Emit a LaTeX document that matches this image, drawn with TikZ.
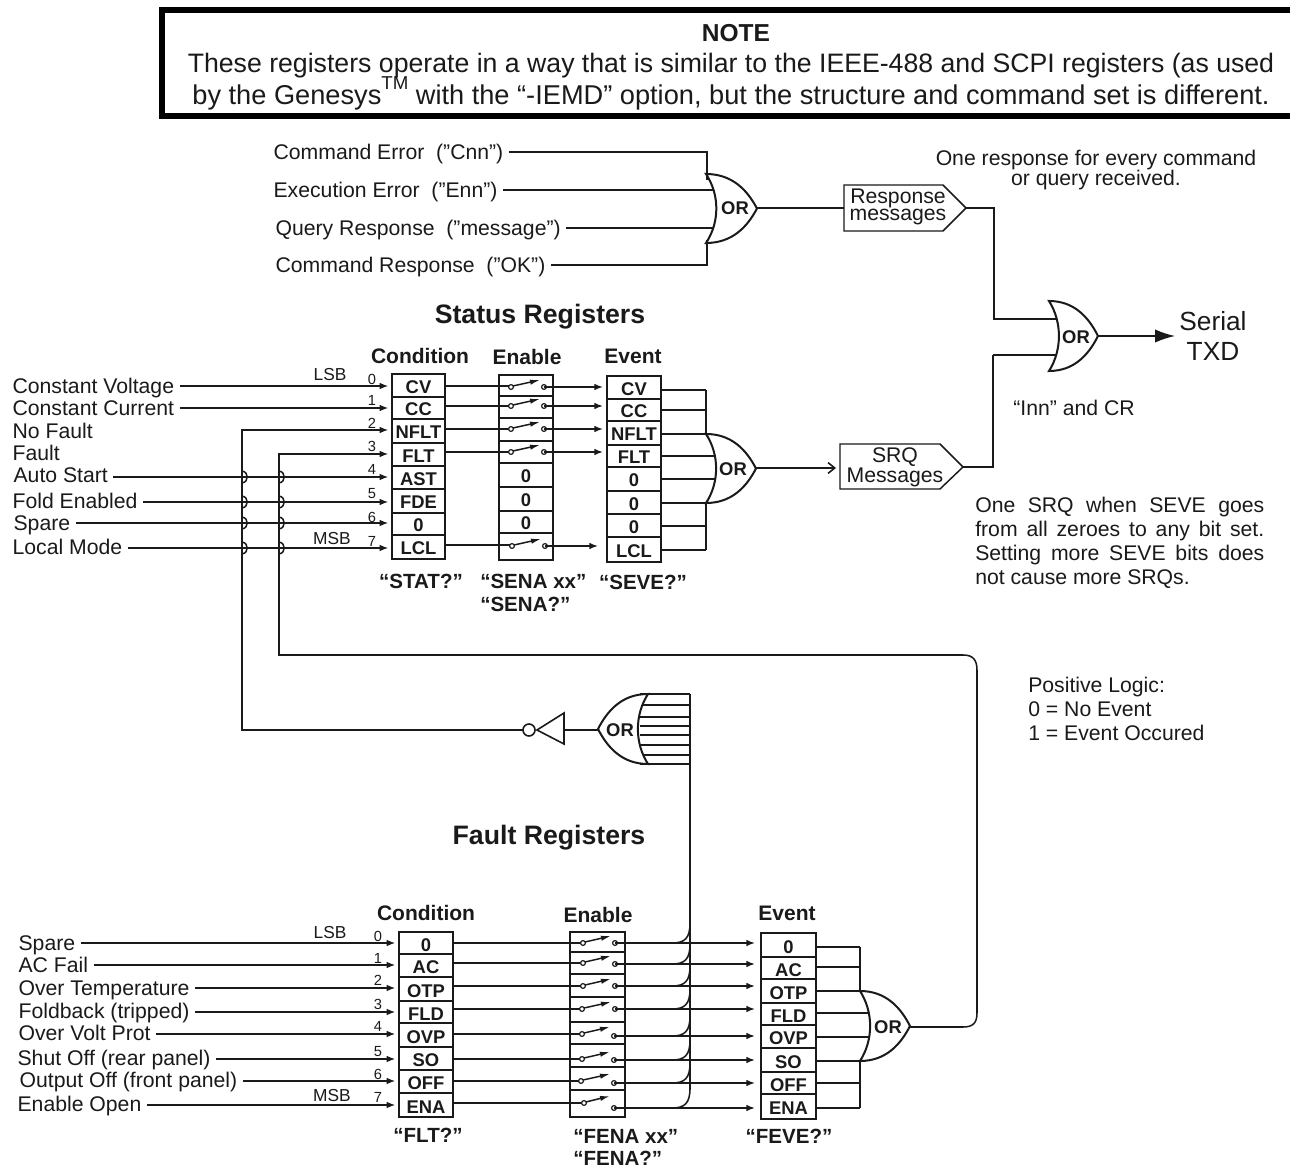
\documentclass[tikz,border=0pt]{standalone}
\usepackage{fontspec}
\setmainfont{Liberation Sans}
\definecolor{ink}{HTML}{1A1A1A}
\usetikzlibrary{arrows.meta,calc}
\tikzset{
  x=0.75pt,y=-0.75pt,
  wire/.style={draw=ink,line width=1.15pt,line cap=butt},
  arr/.style={wire,-{Latex[length=6.5pt,width=5pt]}},
  txt/.style={inner sep=0pt,text=ink,font=\fontsize{15.9}{18}\selectfont},
  inlbl/.style={txt,inner xsep=4pt,anchor=west,text height=12pt,text depth=0.8pt},
  hd/.style={txt,font=\fontsize{15.75}{18}\bfseries\selectfont},
  ttl/.style={txt,font=\fontsize{20}{24}\bfseries\selectfont},
  cmd/.style={txt,font=\fontsize{15.4}{18}\bfseries\selectfont},
  cell/.style={draw=ink,line width=1.1pt,inner sep=0pt,text=ink,font=\fontsize{13.8}{14}\bfseries\selectfont,fill=white,text height=12pt,text depth=0pt},
  num/.style={txt,font=\fontsize{11}{12}\selectfont},
  side/.style={txt,font=\fontsize{13}{14}\selectfont},
  gatetxt/.style={txt,font=\fontsize{13.8}{14}\bfseries\selectfont},
  notetxt/.style={txt,anchor=base,font=\fontsize{20}{22}\selectfont},
}
% cell: name, x0, x1, y0, y1, text
\newcommand{\regcell}[6]{\node[cell,minimum width=#3*0.75pt-#2*0.75pt,minimum height=#5*0.75pt-#4*0.75pt] (#1) at ({(#2+#3)/2},{(#4+#5)/2}) {#6};}
% OR outline: xback, ytop, ybottom, xtip
\newcommand{\orshape}[4]{%
  \pgfmathsetmacro{\orW}{#4-#1}\pgfmathsetmacro{\orM}{(#2+#3)/2}\pgfmathsetmacro{\orH}{#3-#2}%
  \draw[draw=ink,line width=1.5pt,fill=white,line join=miter]
   (#1,#2) .. controls ({#1+0.5*\orW},#2) and ({#1+0.8*\orW},{\orM-0.28*\orH}) .. (#4,\orM)
   .. controls ({#1+0.8*\orW},{\orM+0.28*\orH}) and ({#1+0.5*\orW},#3) .. (#1,#3)
   .. controls ({#1+0.27*\orW},{\orM+0.2*\orH}) and ({#1+0.27*\orW},{\orM-0.2*\orH}) .. cycle;}
% switch: xl, xr, yl, yr
\newcommand{\swt}[4]{%
  \draw[draw=ink,line width=0.9pt,fill=white] (#1,#3) circle (1.8pt) (#2,#4) circle (1.8pt);
  \draw[draw=ink,line width=1.1pt,-{Latex[length=7.5pt,width=4pt]}] (#1,#3) ++(2,-1) -- ({#2-4},{#3-7});}
% bumped vertical wire from top y to bottom y at x
\newcommand{\bump}[2]{-- (#1,{#2-6}) .. controls ({#1+7},{#2-5}) and ({#1+7},{#2+5}) .. (#1,{#2+6})}
\begin{document}
\begin{tikzpicture}
\useasboundingbox (0,0) rectangle (1290,1169);
\fill[white] (0,0) rectangle (1290,1169);
% NOTE box
\draw[black,line width=4.5pt] (1295,10) -- (162,10) -- (162,116) -- (1295,116);
\node[txt,font=\fontsize{18.4}{20}\bfseries\selectfont] (note) at (736,33) {NOTE};
\node[notetxt] (n1) at (731,73) {These registers operate in a way that is similar to the IEEE-488 and SCPI registers (as used};
\node[notetxt,font=\fontsize{20.4}{22}\selectfont] (n2) at (731,105) {by the Genesys\raisebox{1.1ex}{\fontsize{14}{14}\selectfont TM} with the “-IEMD” option, but the structure and command set is different.};
% Top inputs
\node[inlbl] (e1) at (268,152) {Command Error\ \ (”Cnn”)};
\node[inlbl] (e2) at (268,190) {Execution Error\ \ (”Enn”)};
\node[inlbl] (e3) at (270,228) {Query Response\ \ (”message”)};
\node[inlbl] (e4) at (270,265) {Command Response\ \ (”OK”)};
\coordinate (busA) at (707,0);
\draw[wire] (e1.east) -- (e1.east -| busA) -- (707,180);
\draw[wire] (e2.east) -- (717,190);
\draw[wire] (e3.east) -- (717,228);
\draw[wire] (e4.east) -- (e4.east -| busA) -- (707,240);
\orshape{706}{174}{243}{757}
\node[gatetxt] (orA) at (735,208) {OR};
\coordinate (orAout) at (757,208);
\coordinate (rA) at (844,208);
\coordinate (rTip) at (966,208);
\draw[draw=ink,line width=1.1pt,fill=white] (844,185) -- (943,185) -- (rTip) -- (943,231) -- (844,231) -- cycle;
\node[txt,align=center,font=\fontsize{15.9}{13}\selectfont] (resp) at (898,207) {Response\\messages};
\draw[wire] (orAout) -- (rA);
\coordinate (orSt) at (1059,319);
\draw[wire] (rTip) -- (994,208) -- (994,319) -- (orSt);
\node[txt] (o1) at (1096,160) {One response for every command};
\node[txt] (o2) at (1096,180) {or query received.};
% Serial gate
\coordinate (orSb) at (1059,355);
\draw[wire] (993,355) -- (orSb);
\orshape{1049}{301}{371}{1098}
\node[gatetxt] (orS) at (1076,337) {OR};
\coordinate (orSout) at (1098,336);
\node[txt,font=\fontsize{19.7}{22}\selectfont] (ser1) at (1213,321) {Serial};
\node[txt,font=\fontsize{19.7}{22}\selectfont] (ser2) at (1213,351) {TXD};
\coordinate (serIn) at (1175,336);
\draw[wire,-{Latex[length=15pt,width=10pt]}] (orSout) -- (serIn);
% Status registers
\node[ttl] (stt) at (540,317) {Status Registers};
\node[hd] (h1) at (420,356) {Condition};
\node[hd] (h2) at (527,357) {Enable};
\node[hd] (h3) at (633,356) {Event};
\regcell{c0}{392}{445}{374}{397}{CV}
\regcell{c1}{392}{445}{397}{419}{CC}
\regcell{c2}{392}{445}{419}{443}{NFLT}
\regcell{c3}{392}{445}{443}{466}{FLT}
\regcell{c4}{392}{445}{466}{489}{AST}
\regcell{c5}{392}{445}{489}{513}{FDE}
\regcell{c6}{392}{445}{513}{535}{0}
\regcell{c7}{392}{445}{535}{559}{LCL}
\regcell{n0}{499}{553}{375}{396}{}
\regcell{n1b}{499}{553}{396}{418}{}
\regcell{n2b}{499}{553}{418}{441}{}
\regcell{n3}{499}{553}{441}{463}{}
\regcell{n4}{499}{553}{463}{487}{0}
\regcell{n5}{499}{553}{487}{511}{0}
\regcell{n6}{499}{553}{511}{533}{0}
\regcell{n7}{499}{553}{533}{560}{}
\regcell{v0}{607}{661}{376}{399}{CV}
\regcell{v1}{607}{661}{399}{421}{CC}
\regcell{v2}{607}{661}{421}{445}{NFLT}
\regcell{v3}{607}{661}{445}{467}{FLT}
\regcell{v4}{607}{661}{467}{491}{0}
\regcell{v5}{607}{661}{491}{514}{0}
\regcell{v6}{607}{661}{514}{537}{0}
\regcell{v7}{607}{661}{537}{562}{LCL}
% Status input labels and wires
\node[inlbl] (s0) at (7,386) {Constant Voltage};
\node[inlbl] (s1) at (7,408) {Constant Current};
\node[inlbl] (s2) at (7,431) {No Fault};
\node[inlbl] (s3) at (7,453) {Fault};
\node[inlbl] (s4) at (8,475) {Auto Start};
\node[inlbl] (s5) at (7,501) {Fold Enabled};
\node[inlbl] (s6) at (8,523) {Spare};
\node[inlbl] (s7) at (7,547) {Local Mode};
\tikzset{tipgap/.style={shorten >=2.2pt}}
\foreach \a/\b/\y in {s0/c0/386,s1/c1/408,s4/c4/477,s5/c5/502,s6/c6/523,s7/c7/548}{
  \draw[arr,tipgap] (\a.east |- 0,\y) -- (\b.west |- 0,\y);
}
\foreach \t/\y in {0/379,1/400,2/423,3/446,4/469,5/494,6/517,7/541}{\node[num] (sd\t) at (372,\y) {\t};}
\node[side] (slsb) at (330,375) {LSB};
\node[side] (smsb) at (332,539) {MSB};
\coordinate (nfTop) at (242,430);
\coordinate (flTop) at (279,454);
\coordinate (invIn) at (523,730);
\draw[arr,tipgap] (invIn) -- (242,730) \bump{242}{548} \bump{242}{523} \bump{242}{502} \bump{242}{477} -- (nfTop) -- (nfTop -| c2.west);
\coordinate (faultIn) at (910,1027);
\draw[arr,tipgap] (faultIn) -- (963,1027) .. controls (973,1027) and (977,1023) .. (977,1013) -- (977,670) .. controls (977,660) and (973,655) .. (963,655) -- (279,655)
  \bump{279}{548} \bump{279}{523} \bump{279}{502} \bump{279}{477} -- (flTop) -- (flTop -| c3.west);
% Status enable wires
\foreach \y/\yy/\c in {386/387/c0,406/406/c1,429/429/c2,452/452/c3}{
  \draw[wire] (\c.east |- 0,\y) -- (511,\y);
  \swt{511}{544}{\yy}{\yy}
  \draw[arr] (544,\yy) -- (603,\yy);
}
\draw[wire] (c7.east |- 0,545) -- (512,545);
\swt{512}{545}{546}{546}
\draw[arr] (545,546) -- (598,546);
% Status event OR
\coordinate (busB) at (706,0);
\foreach \y in {390,410,526,550}{\draw[wire] (661,\y) -- (busB |- 0,\y);}
\draw[wire] (661,434) -- (706,434);
\draw[wire] (661,456) -- (716,456);
\draw[wire] (661,479) -- (716,479);
\draw[wire] (661,503) -- (706,503);
\draw[wire] (706,390) -- (706,434) (706,503) -- (706,550);
\orshape{706}{434}{503}{756}
\node[gatetxt] (orB) at (733,469) {OR};
\coordinate (orBout) at (756,468);
\coordinate (srqIn) at (836,468);
\draw[wire,-{Straight Barb[length=5pt,width=8pt]}] (orBout) -- (srqIn);
\coordinate (srqTip) at (963,467);
\draw[draw=ink,line width=1.1pt,fill=white] (840,444) -- (940,444) -- (srqTip) -- (940,489) -- (840,489) -- cycle;
\node[txt,align=center,font=\fontsize{15.9}{15}\selectfont] (srq) at (895,467) {SRQ\\Messages};
\draw[wire] (srqTip) -- (993,467) -- (993,355);
\node[txt] (inn) at (1074,408) {“Inn” and CR};
% Cmd labels
\node[cmd] (q1) at (421,581) {“STAT?”};
\node[cmd,anchor=west] (q2) at (480,581) {“SENA xx”};
\node[cmd,anchor=west] (q3) at (480,604) {“SENA?”};
\node[cmd] (q4) at (643,582) {“SEVE?”};
% Right notes
\node[txt,anchor=west] (j1) at (975,507) {\makebox[216.75pt][s]{One SRQ when SEVE goes}};
\node[txt,anchor=west] (j2) at (975,531) {\makebox[216.75pt][s]{from all zeroes to any bit set.}};
\node[txt,anchor=west] (j3) at (975,555) {\makebox[216.75pt][s]{Setting more SEVE bits does}};
\node[txt,anchor=west] (j4) at (975,579) {not cause more SRQs.};
\node[txt,anchor=west] (p1) at (1028,687) {Positive Logic:};
\node[txt,anchor=west] (p2) at (1028,709) {0 = No Event};
\node[txt,anchor=west] (p3) at (1028,733) {1 = Event Occured};
% Fault bus wire and NOR
\coordinate (busC) at (690,0);
\foreach \y in {694,705,717,726,735,745,755,764}{\draw[wire] (640,\y) -- (busC |- 0,\y);}
\draw[wire] (690,694) -- (690,1090);
\orshape{648}{694}{764}{598}
\node[gatetxt] (orC) at (620,730) {OR};
\coordinate (orCout) at (598,730);
\coordinate (invBase) at (564,730);
\draw[wire] (orCout) -- (invBase);
\draw[draw=ink,line width=1.2pt,fill=white] (564,713) -- (537,730) -- (564,744) -- cycle;
\draw[draw=ink,line width=1.2pt,fill=white] (529,730) circle (4.5pt);
\node[ttl] (ftt) at (549,838) {Fault Registers};
% Fault registers
\node[hd] (f1) at (426,913) {Condition};
\node[hd] (f2) at (598,915) {Enable};
\node[hd] (f3) at (787,913) {Event};
\regcell{a0}{399}{453}{932}{954}{0}
\regcell{a1}{399}{453}{954}{977}{AC}
\regcell{a2}{399}{453}{977}{1001}{OTP}
\regcell{a3}{399}{453}{1001}{1023}{FLD}
\regcell{a4}{399}{453}{1023}{1047}{OVP}
\regcell{a5}{399}{453}{1047}{1070}{SO}
\regcell{a6}{399}{453}{1070}{1093}{OFF}
\regcell{a7}{399}{453}{1093}{1117}{ENA}
\regcell{b0}{570}{625}{932}{952}{}
\regcell{b1}{570}{625}{952}{974}{}
\regcell{b2}{570}{625}{974}{997}{}
\regcell{b3}{570}{625}{997}{1022}{}
\regcell{b4}{570}{625}{1022}{1044}{}
\regcell{b5}{570}{625}{1044}{1067}{}
\regcell{b6}{570}{625}{1067}{1090}{}
\regcell{b7}{570}{625}{1090}{1117}{}
\regcell{d0}{761}{816}{933}{957}{0}
\regcell{d1}{761}{816}{957}{979}{AC}
\regcell{d2}{761}{816}{979}{1003}{OTP}
\regcell{d3}{761}{816}{1003}{1025}{FLD}
\regcell{d4}{761}{816}{1025}{1048}{OVP}
\regcell{d5}{761}{816}{1048}{1072}{SO}
\regcell{d6}{761}{816}{1072}{1094}{OFF}
\regcell{d7}{761}{816}{1094}{1119}{ENA}
\node[inlbl] (g0) at (13,943) {Spare};
\node[inlbl] (g1) at (13,965) {AC Fail};
\node[inlbl] (g2) at (13,988) {Over Temperature};
\node[inlbl] (g3) at (13,1011) {Foldback (tripped)};
\node[inlbl] (g4) at (13,1033) {Over Volt Prot};
\node[inlbl] (g5) at (12,1058) {Shut Off (rear panel)};
\node[inlbl] (g6) at (14,1080) {Output Off (front panel)};
\node[inlbl] (g7) at (12,1104) {Enable Open};
\foreach \a/\b/\y in {g0/a0/943,g1/a1/965,g2/a2/988,g3/a3/1012,g4/a4/1034,g5/a5/1059,g6/a6/1081,g7/a7/1105}{
  \draw[arr,tipgap] (\a.east |- 0,\y) -- (\b.west |- 0,\y);
}
\foreach \t/\y in {0/936,1/958,2/980,3/1004,4/1026,5/1052,6/1074,7/1097}{\node[num] (gd\t) at (378,\y) {\t};}
\node[side] (glsb) at (330,933) {LSB};
\node[side] (gmsb) at (332,1096) {MSB};
% Fault enable wires
\foreach \yl/\yr/\c/\x/\xr in {943/943/a0/583/615,963/964/a1/583/615,986/986/a2/583/615,1009/1009/a3/582/615,1034/1036/a4/582/614,1059/1060/a5/582/614,1081/1083/a6/581/614,1103/1108/a7/584/614}{
  \draw[wire] (\c.east |- 0,\yl) -- (\x,\yl);
  \swt{\x}{\xr}{\yl}{\yr}
  \draw[arr] (\xr,\yr) -- (755,\yr);
  \draw[wire] (690,{\yr-20}) .. controls (690,{\yr-5}) and (685,\yr) .. (672,\yr);
}
% Fault event OR
\coordinate (busD) at (860,0);
\foreach \y in {947,967,1083,1108}{\draw[wire] (816,\y) -- (busD |- 0,\y);}
\draw[wire] (816,991) -- (860,991);
\draw[wire] (816,1013) -- (869,1013);
\draw[wire] (816,1037) -- (869,1037);
\draw[wire] (816,1061) -- (860,1061);
\draw[wire] (860,947) -- (860,991) (860,1061) -- (860,1108);
\orshape{860}{991}{1061}{910}
\node[gatetxt] (orD) at (888,1027) {OR};
\node[cmd] (q5) at (428,1135) {“FLT?”};
\node[cmd,anchor=west] (q6) at (573,1136) {“FENA xx”};
\node[cmd,anchor=west] (q7) at (573,1158) {“FENA?”};
\node[cmd] (q8) at (789,1136) {“FEVE?”};
\end{tikzpicture}
\end{document}
